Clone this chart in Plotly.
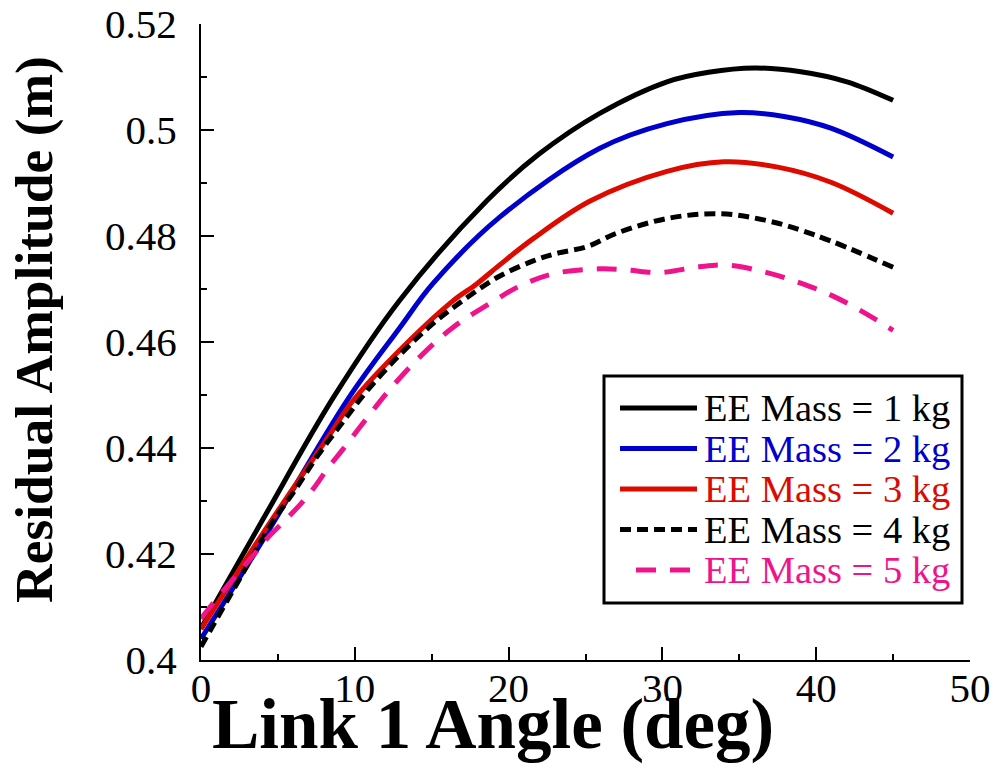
import plotly.graph_objects as go

# ---------------- data ----------------
names = ["EE Mass = 1 kg", "EE Mass = 2 kg", "EE Mass = 3 kg", "EE Mass = 4 kg", "EE Mass = 5 kg"]

x_m1 = [0, 4, 8.6, 12.9, 18.6, 22, 25.9, 30.3, 33, 36, 39, 42, 45]
y_m1 = [0.406, 0.4264, 0.4495, 0.4678, 0.4867, 0.4955, 0.5031, 0.5091, 0.5109, 0.5117, 0.5110, 0.5091, 0.5056]

x_m2 = [0, 4, 9.5, 12.9, 15.1, 19.4, 25.9, 30.3, 35, 38, 41, 45]
y_m2 = [0.404, 0.4225, 0.449, 0.4626, 0.4711, 0.4835, 0.4965, 0.5012, 0.5033, 0.5025, 0.5003, 0.4949]

x_m3 = [0, 4, 8.25, 9.9, 12.9, 16.4, 17.9, 19.4, 21.6, 25.3, 30.3, 34, 37.5, 41, 45]
y_m3 = [0.4058, 0.4238, 0.442, 0.449, 0.4584, 0.4678, 0.4709, 0.4745, 0.4795, 0.4866, 0.4922, 0.4940, 0.4930, 0.4901, 0.4843]

x_m4 = [0, 0.7, 2, 3.3, 4.6, 6.1, 7.6, 9.2, 10.8, 12.9, 15.1, 17.3, 19.4, 21.6, 23.1, 25.1, 27, 30.3, 33.7, 36.8, 40, 45]
y_m4 = [0.4025, 0.4061, 0.4127, 0.4193, 0.4258, 0.432, 0.4386, 0.4448, 0.4508, 0.4575, 0.4635, 0.4684,
        0.4724, 0.4753, 0.4767, 0.4780, 0.4805, 0.4833, 0.4842, 0.4829, 0.4801, 0.4741]

x_m5 = [0, 0.78, 3.38, 4.35, 5.45, 6.56, 7.4, 8.25, 9.16, 10.8, 12.2, 14.2, 16.4, 18.8, 20.9, 23.1,
        25.9, 27.7, 29.8, 32.4, 34.2, 36.8, 38.9, 41, 43.2, 45]
y_m5 = [0.4078, 0.4107, 0.4197, 0.4231, 0.4263, 0.4297, 0.4327, 0.4362, 0.4395, 0.4457, 0.4508, 0.4571,
        0.4628, 0.4673, 0.4708, 0.473, 0.4738, 0.4736, 0.4731, 0.4742, 0.4745, 0.4731, 0.4712, 0.4688,
        0.4654, 0.4622]

x_ticks = [0, 10, 20, 30, 40, 50]
x_ticktext = ["0", "10", "20", "30", "40", "50"]
y_ticks = [0.40, 0.42, 0.44, 0.46, 0.48, 0.50, 0.52]
y_ticktext = ["0.4", "0.42", "0.44", "0.46", "0.48", "0.5", "0.52"]

x_title = "Link 1 Angle (deg)"
y_title = "Residual Amplitude (m)"

# ---------------- styles ----------------
colors = ["#000000", "#0000cc", "#dd0a00", "#000000", "#f0148c"]
dashes = ["solid", "solid", "solid", "11px,6px", "20px,14px"]
xs = [x_m1, x_m2, x_m3, x_m4, x_m5]
ys = [y_m1, y_m2, y_m3, y_m4, y_m5]

SERIF = "Liberation Serif, Times New Roman, serif"

fig = go.Figure()
for name, x, y, c, d in zip(names, xs, ys, colors, dashes):
    fig.add_trace(go.Scatter(
        x=x, y=y, mode="lines", name=name, showlegend=False,
        line=dict(color=c, width=5, dash=d, shape="spline", smoothing=1.0),
    ))

W, H = 994, 776
ml, mr, mt, mb = 201, 24, 24, 116
pw, ph = W - ml - mr, H - mt - mb


def px_x(p):
    return (p - ml) / pw


def px_y(p):
    return (H - mb - p) / ph


shapes = []
annotations = []

# legend box
shapes.append(dict(type="rect", xref="paper", yref="paper",
                   x0=px_x(604), x1=px_x(962), y0=px_y(603), y1=px_y(376),
                   line=dict(color="black", width=3), fillcolor="white", layer="above"))
row0, rowgap = 408, 40.5
for i, (name, c, d) in enumerate(zip(names, colors, dashes)):
    yy = px_y(row0 + rowgap * i)
    x0 = 620 if i < 4 else 636
    shapes.append(dict(type="line", xref="paper", yref="paper",
                       x0=px_x(x0), x1=px_x(697), y0=yy, y1=yy,
                       line=dict(color=c, width=5, dash=d), layer="above"))
    annotations.append(dict(xref="paper", yref="paper", x=px_x(702), y=yy,
                            xanchor="left", yanchor="middle", showarrow=False,
                            text=name, font=dict(family=SERIF, size=38.5, color=c)))

# axis titles
annotations.append(dict(xref="paper", yref="paper", x=px_x(493), y=px_y(724),
                        xanchor="center", yanchor="middle", showarrow=False,
                        text="<b>" + x_title + "</b>",
                        font=dict(family=SERIF, size=71, color="black")))
annotations.append(dict(xref="paper", yref="paper", x=px_x(34), y=px_y(330),
                        xanchor="center", yanchor="middle", showarrow=False, textangle=-90,
                        text="<b>" + y_title + "</b>",
                        font=dict(family=SERIF, size=53.5, color="black")))

fig.update_layout(
    width=W, height=H,
    margin=dict(l=ml, r=mr, t=mt, b=mb),
    paper_bgcolor="white", plot_bgcolor="white",
    showlegend=False,
    shapes=shapes, annotations=annotations,
    xaxis=dict(
        range=[0, 50], tickvals=x_ticks, ticktext=x_ticktext, automargin=False,
        showgrid=False, zeroline=False, showline=True, linecolor="black", linewidth=2,
        ticks="inside", ticklen=13, tickwidth=2, tickcolor="black",
        minor=dict(dtick=5, ticks="inside", ticklen=6, tickwidth=2, tickcolor="black", showgrid=False),
        tickfont=dict(family=SERIF, size=41, color="black"),
        ticklabelstandoff=-9,
    ),
    yaxis=dict(
        range=[0.4, 0.52], tickvals=y_ticks, ticktext=y_ticktext, automargin=False,
        showgrid=False, zeroline=False, showline=True, linecolor="black", linewidth=2,
        ticks="inside", ticklen=13, tickwidth=2, tickcolor="black",
        minor=dict(dtick=0.01, ticks="inside", ticklen=6, tickwidth=2, tickcolor="black", showgrid=False),
        tickfont=dict(family=SERIF, size=41, color="black"),
        ticklabelstandoff=14,
    ),
)

fig.write_html("out.html")
